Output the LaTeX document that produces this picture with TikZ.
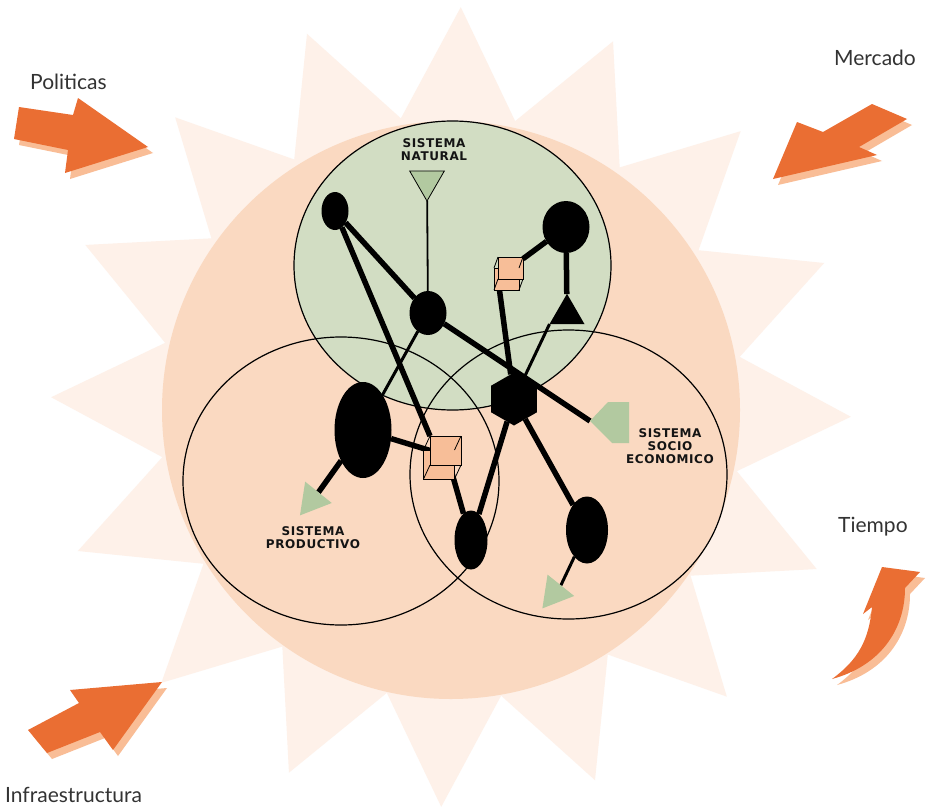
\documentclass[tikz,border=0pt]{standalone}
\usepackage{fontspec}
\setmainfont{Lato}
\newfontfamily\labfont[LetterSpace=5]{DejaVu Sans}
\usetikzlibrary{shapes.geometric}
\pgfdeclarelayer{bg}
\pgfdeclarelayer{lines}
\pgfsetlayers{bg,lines,main}
\definecolor{starc}{HTML}{FEF1E9}
\definecolor{bigc}{HTML}{FAD9C1}
\definecolor{natc}{HTML}{D2DDC3}
\definecolor{grn}{HTML}{B2C9A0}
\definecolor{cubec}{HTML}{F7BE98}
\definecolor{org}{HTML}{EA6E33}
\definecolor{orgsh}{HTML}{F9BD96}
\tikzset{
  blob/.style={ellipse, fill=black, inner sep=0pt, outer sep=0pt},
  conn/.style={line width=5.5pt},
  connm/.style={line width=3pt},
  conns/.style={line width=1.8pt},
  gtri/.style={regular polygon, regular polygon sides=3, inner sep=0pt, outer sep=0pt, fill=grn},
  cubeface/.style={draw=black, line width=0.8pt, fill=cubec},
  outl/.style={draw=black, line width=1.2pt},
  lab/.style={font=\labfont\bfseries\fontsize{12}{12.8}\selectfont, align=center, text=black!92, inner sep=0pt},
  big/.style={font=\fontsize{21}{24}\selectfont, text=black!80, inner sep=0pt}
}
\begin{document}
\begin{tikzpicture}[x=1pt,y=-1pt]
\useasboundingbox (0,0) rectangle (926,808);
\begin{pgfonlayer}{bg}
\fill[white] (0,0) rectangle (926,808);
\begin{scope}[shift={(451,407)}]
\fill[starc] (-88.6:400) \foreach \k in {0,...,15}{ -- ({-88.6+\k*22.5+11.25}:293) -- ({-88.6+(\k+1)*22.5}:400) } -- cycle;
\end{scope}
\fill[bigc] (451,410) circle [radius=289pt];
\fill[natc] (452.5,265.5) ellipse [x radius=158.5pt, y radius=144.5pt];
\draw[outl] (452.5,265.5) ellipse [x radius=158.5pt, y radius=144.5pt];
\draw[outl] (341,481) ellipse [x radius=158pt, y radius=144pt];
\draw[outl] (568.5,474.5) ellipse [x radius=158.5pt, y radius=144.5pt];
% orange arrows: shadows
\begin{scope}[shift={(5,6)}]
\fill[orgsh] (19,107) -- (73,115) -- (78,98) -- (148,147) -- (65,173) -- (68,150) -- (14,139) -- cycle;
\fill[orgsh] (773,179) -- (797,122) -- (823,132) -- (872,104) -- (907,119) -- (859,147) -- (877,155) -- cycle;
\fill[orgsh] (28,730) -- (79,703) -- (70,690) -- (162,682) -- (113,750) -- (100,732) -- (47,753) -- cycle;
\fill[orgsh] (882,567) -- (920,572) -- (905,588) .. controls (905,630) and (880,666) .. (832,679) .. controls (858,660) and (869,640) .. (872,607) -- (863,614) -- cycle;
\end{scope}
\fill[org] (19,107) -- (73,115) -- (78,98) -- (148,147) -- (65,173) -- (68,150) -- (14,139) -- cycle;
\fill[org] (773,179) -- (797,122) -- (823,132) -- (872,104) -- (907,119) -- (859,147) -- (877,155) -- cycle;
\fill[org] (28,730) -- (79,703) -- (70,690) -- (162,682) -- (113,750) -- (100,732) -- (47,753) -- cycle;
\fill[org] (882,567) -- (920,572) -- (905,588) .. controls (905,630) and (880,666) .. (832,679) .. controls (858,660) and (869,640) .. (872,607) -- (863,614) -- cycle;
\end{pgfonlayer}

% black nodes
\node[blob, minimum width=27pt, minimum height=38pt] (A) at (335,211) {};
\node[blob, minimum width=37pt, minimum height=44pt] (B) at (428,313) {};
\node[blob, minimum width=47pt, minimum height=52pt] (C) at (566,227) {};
\node[blob, minimum width=57pt, minimum height=96pt] (E) at (363,430) {};
\node[blob, minimum width=33pt, minimum height=59pt] (G) at (471,540) {};
\node[blob, minimum width=42pt, minimum height=67pt] (H) at (587,530) {};
\node[regular polygon, regular polygon sides=6, shape border rotate=30, fill=black, inner sep=0pt, outer sep=0pt, minimum size=53pt] (F) at (514,399) {};
\node[regular polygon, regular polygon sides=3, fill=black, inner sep=0pt, outer sep=0pt, minimum size=40.4pt] (T) at (567,314) {};
% green markers
\node[gtri, draw=black, line width=0.8pt, shape border rotate=180, minimum size=40pt] (GN) at (427,181) {};
\node[gtri, shape border rotate=-98.7, minimum size=39.4pt] (GL) at (312.3,500) {};
\node[gtri, shape border rotate=-98.7, minimum size=39.4pt] (GB) at (554.7,593) {};
\fill[grn] (590,421) -- (608,402) -- (629,402) -- (629,443) -- (612,443) -- cycle;
\coordinate (P) at (590,421);
% cubes
\draw[cubeface] (494,268) rectangle (519,290);
\draw[line width=0.8pt] (498,257) -- (494,268) (523,279) -- (519,290) (498,279) -- (494,290);
\node[cubeface, minimum width=25pt, minimum height=22pt, inner sep=0pt, outer sep=0pt] (K1) at (510.5,268) {};
\draw[line width=0.8pt] (523,257) -- (519,268);
\draw[cubeface] (423.5,450) rectangle (454.5,479);
\draw[line width=0.8pt] (430,436) -- (423.5,450) (461,465) -- (454.5,479) (430,465) -- (423.5,479);
\node[cubeface, minimum width=31pt, minimum height=29pt, inner sep=0pt, outer sep=0pt] (K2) at (445.5,450.5) {};
\draw[line width=0.8pt] (461,436) -- (454.5,450);

% connectors
\begin{pgfonlayer}{lines}
\draw[conn] (A) -- (B);
\draw[conn] (A) -- (K2.north west);
\draw[conn] (B) -- (P);
\draw[conn] (K1.south west) -- (F);
\draw[connm] (T.corner 2) -- (F);
\draw[connm] (B) -- (E);
\draw[conn] (E) -- (K2.west);
\draw[conn] (E) -- (GL.side 1);
\draw[conn] (K2) -- (G);
\draw[conn] (F) -- (G);
\draw[conn] (F) -- (H);
\draw[connm] (H) -- (GB.side 1);
\draw[conn] (C) -- (K1);
\draw[conn] (C) -- (T);
\draw[conns] (GN) -- (B);
\end{pgfonlayer}

% labels
\node[lab] (lnat) at (434,149.5) {SISTEMA\\NATURAL};
\node[lab] (lsoc) at (670,446) {SISTEMA\\SOCIO\\ECONOMICO};
\node[lab] (lpro) at (313,537.5) {SISTEMA\\PRODUCTIVO};
\node[big, anchor=base west] (tpol) at (30,89) {Politicas};
\node[big, anchor=base west] (tmer) at (834,66) {Mercado};
\node[big, anchor=base west] (ttie) at (838,532) {Tiempo};
\node[big, anchor=base west] (tinf) at (5,802) {Infraestructura};
\end{tikzpicture}
\end{document}
